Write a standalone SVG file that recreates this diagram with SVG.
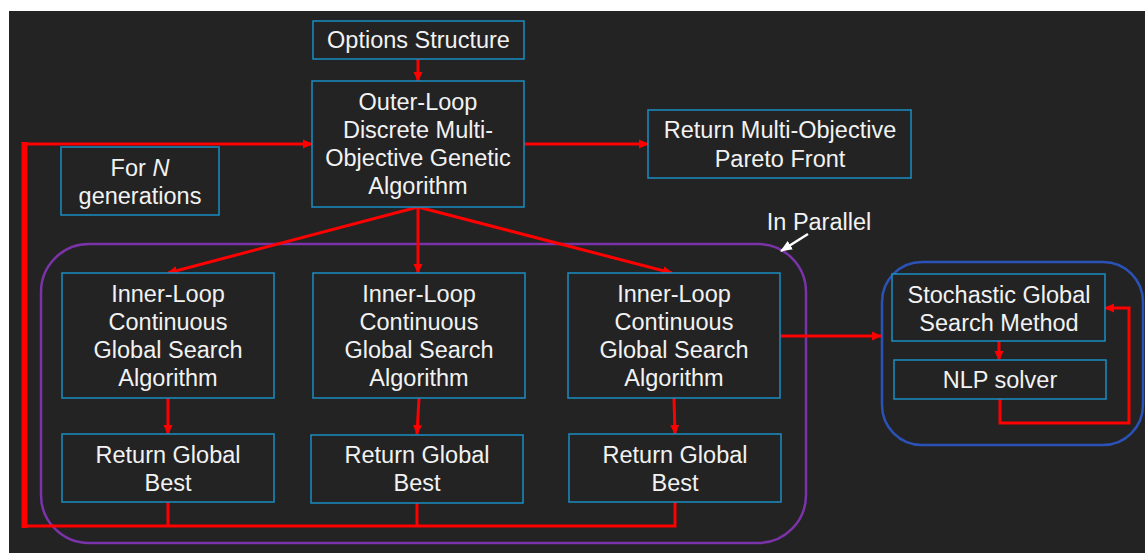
<svg xmlns="http://www.w3.org/2000/svg" width="1145" height="553" viewBox="0 0 1145 553">
<defs>
<marker id="ar" markerUnits="userSpaceOnUse" markerWidth="10" markerHeight="10" refX="9" refY="5" orient="auto"><path d="M0,0.5 L10,5 L0,9.5 z" fill="#ff0000"/></marker>
<marker id="aw" markerUnits="userSpaceOnUse" markerWidth="12" markerHeight="12" refX="11" refY="6" orient="auto"><path d="M0,1 L12,6 L0,11 z" fill="#ffffff"/></marker>
<style>
.box{fill:#232323;stroke:#1a8fc4;stroke-width:1.5}
.t{font-family:"Liberation Sans",Arial,sans-serif;font-size:23.5px;fill:#f2f2f2;text-anchor:middle}
.c{fill:none;stroke:#ff0000;stroke-width:3}
</style>
</defs>
<rect width="1145" height="553" fill="#ffffff"/>
<rect x="9" y="11" width="1136" height="542" fill="#232323"/>

<g id="parallel-group"><rect x="41" y="244" width="765" height="299" rx="48" fill="none" stroke="#7a33a8" stroke-width="2.5"/></g>
<g id="local-group"><rect x="882" y="262" width="261" height="183" rx="40" fill="none" stroke="#2b52b8" stroke-width="2.5"/></g>

<g id="connectors">
<line class="c" x1="418" y1="59" x2="418" y2="81" marker-end="url(#ar)"/>
<line class="c" x1="524" y1="144" x2="648" y2="144" marker-end="url(#ar)"/>
<line class="c" x1="418" y1="207" x2="168" y2="273" marker-end="url(#ar)"/>
<line class="c" x1="418" y1="207" x2="418" y2="273" marker-end="url(#ar)"/>
<line class="c" x1="418" y1="207" x2="672" y2="273" marker-end="url(#ar)"/>
<line class="c" x1="168" y1="398" x2="168" y2="434" marker-end="url(#ar)"/>
<line class="c" x1="419" y1="398" x2="417" y2="434" marker-end="url(#ar)"/>
<line class="c" x1="674" y1="398" x2="675" y2="434" marker-end="url(#ar)"/>
<path class="c" d="M168,502 V526 M417,502 V526 M675,502 V526 H24 V144 H312" marker-end="url(#ar)"/>
<line x1="24.5" y1="142" x2="24.5" y2="528" stroke="#ff0000" stroke-width="6"/>
<line class="c" x1="780" y1="336" x2="881" y2="336" marker-end="url(#ar)"/>
<line class="c" x1="999" y1="341" x2="999" y2="360" marker-end="url(#ar)"/>
<path class="c" d="M1000,399 V423 H1129 V308 H1105" marker-end="url(#ar)"/>
<line x1="808" y1="234" x2="781" y2="251" stroke="#ffffff" stroke-width="2.5" marker-end="url(#aw)"/>
</g>

<g id="options"><rect class="box" x="313" y="21" width="211" height="38"/><text class="t" x="418.5" y="48">Options Structure</text></g>
<g id="outer-loop"><rect class="box" x="312" y="81" width="212" height="126"/>
<text class="t" x="418" y="110">Outer-Loop</text><text class="t" x="418" y="138">Discrete Multi-</text><text class="t" x="418" y="166">Objective Genetic</text><text class="t" x="418" y="194">Algorithm</text></g>
<g id="for-n"><rect class="box" x="61" y="147" width="158" height="68"/>
<text class="t" x="140" y="176">For <tspan font-style="italic">N</tspan></text><text class="t" x="140" y="204">generations</text></g>
<g id="pareto"><rect class="box" x="648" y="110" width="263" height="68"/>
<text class="t" x="780" y="138">Return Multi-Objective</text><text class="t" x="780" y="167">Pareto Front</text></g>
<g id="in-parallel"><text class="t" x="819" y="230">In Parallel</text></g>

<g id="inner1"><rect class="box" x="62" y="273" width="212" height="125"/>
<text class="t" x="168" y="302">Inner-Loop</text><text class="t" x="168" y="330">Continuous</text><text class="t" x="168" y="358">Global Search</text><text class="t" x="168" y="386">Algorithm</text></g>
<g id="inner2"><rect class="box" x="313" y="273" width="212" height="125"/>
<text class="t" x="419" y="302">Inner-Loop</text><text class="t" x="419" y="330">Continuous</text><text class="t" x="419" y="358">Global Search</text><text class="t" x="419" y="386">Algorithm</text></g>
<g id="inner3"><rect class="box" x="568" y="273" width="212" height="125"/>
<text class="t" x="674" y="302">Inner-Loop</text><text class="t" x="674" y="330">Continuous</text><text class="t" x="674" y="358">Global Search</text><text class="t" x="674" y="386">Algorithm</text></g>

<g id="best1"><rect class="box" x="62" y="434" width="212" height="68"/>
<text class="t" x="168" y="463">Return Global</text><text class="t" x="168" y="491">Best</text></g>
<g id="best2"><rect class="box" x="311" y="435" width="212" height="68"/>
<text class="t" x="417" y="463">Return Global</text><text class="t" x="417" y="491">Best</text></g>
<g id="best3"><rect class="box" x="569" y="434" width="212" height="68"/>
<text class="t" x="675" y="463">Return Global</text><text class="t" x="675" y="491">Best</text></g>

<g id="stochastic"><rect class="box" x="892" y="274" width="213" height="67"/>
<text class="t" x="999" y="303">Stochastic Global</text><text class="t" x="999" y="331">Search Method</text></g>
<g id="nlp"><rect class="box" x="894" y="360" width="212" height="39"/>
<text class="t" x="1000" y="388">NLP solver</text></g>
</svg>
